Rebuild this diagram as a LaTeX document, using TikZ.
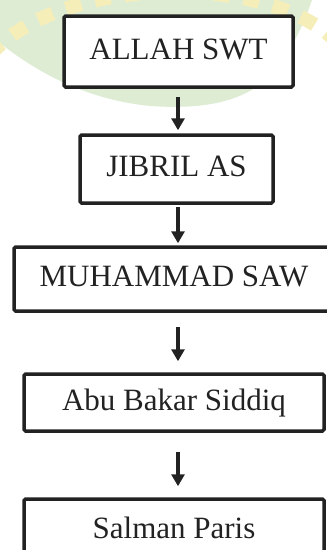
\documentclass[tikz,border=0pt]{standalone}
\usepackage{fontspec}
\setmainfont{Liberation Serif}
\usepackage{tikz}
\usetikzlibrary{arrows.meta,positioning}

\definecolor{garis}{HTML}{222222}
\definecolor{hijau}{RGB}{222,236,212}
\definecolor{kuning}{RGB}{246,238,184}

\begin{document}
\begin{tikzpicture}[
    x=1pt,
    y=-1pt,
    kotak/.style={
        draw=garis,
        fill=white,
        line width=3.5pt,
        rounded corners=1.5pt,
        inner sep=0pt,
        text=garis,
        font=\fontsize{31}{37}\selectfont,
        text height=21pt,
        text depth=6pt
    },
    panah/.style={
        -{Triangle[width=13pt,length=12pt]},
        draw=garis,
        line width=4pt
    }
]

\useasboundingbox (0,0) rectangle (327,550);
\clip (0,0) rectangle (327,550);

% Watermark
\fill[hijau] (0,0) -- (0,43) .. controls (40,75) and (90,100) .. (150,106)
    .. controls (210,110) and (250,100) .. (275,70)
    .. controls (295,45) and (305,20) .. (312,0) -- cycle;
\draw[line width=14pt, draw=kuning, dash pattern=on 16pt off 14pt]
    (-10,55) .. controls (60,-25) and (270,-30) .. (340,45);

% Chain of transmission
\node[kotak, minimum width=229pt, minimum height=71pt] (allah) at (178.5,51.5) {ALLAH SWT};
\node[kotak, minimum width=193pt, minimum height=68pt] (jibril) at (176.5,169) {JIBRIL AS};
\node[kotak, minimum width=320pt, minimum height=64pt] (muhammad) at (174,279) {MUHAMMAD SAW};
\node[kotak, minimum width=300pt, minimum height=57pt] (abubakar) at (174,402.5) {Abu Bakar Siddiq};
\node[kotak, minimum width=300pt, minimum height=64pt] (salman) at (174,531) {Salman Paris};

% Arrows
\coordinate (sumbu) at (178,0);
\draw[panah, shorten <=8pt, shorten >=3pt] (allah.south -| sumbu) -- (jibril.north -| sumbu);
\draw[panah, shorten <=2pt, shorten >=2pt] (jibril.south -| sumbu) -- (muhammad.north -| sumbu);
\draw[panah, shorten <=14pt, shorten >=11pt] (muhammad.south -| sumbu) -- (abubakar.north -| sumbu);
\draw[panah, shorten <=19pt, shorten >=11pt] (abubakar.south -| sumbu) -- (salman.north -| sumbu);

\end{tikzpicture}
\end{document}
